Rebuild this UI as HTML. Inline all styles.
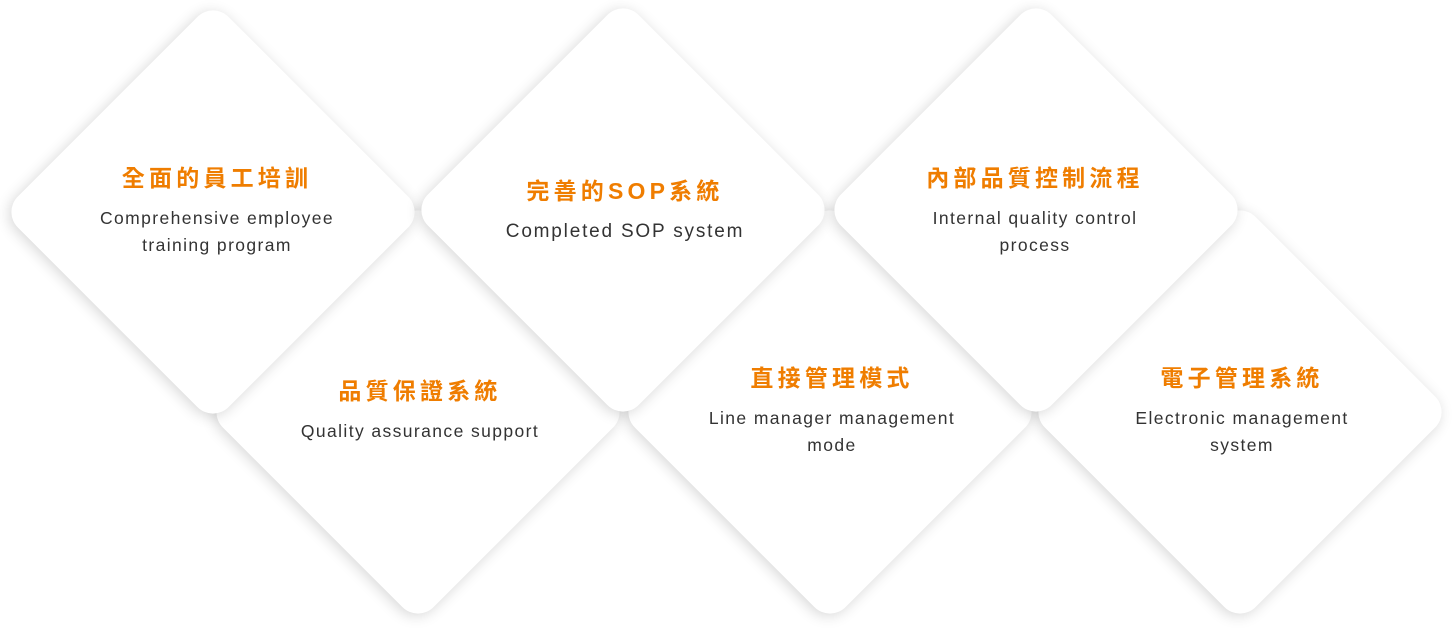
<!DOCTYPE html>
<html><head><meta charset="utf-8"><style>
html,body{margin:0;padding:0;background:#fff;width:1455px;height:631px;overflow:hidden;position:relative;font-family:"Liberation Sans","Noto Sans CJK TC",sans-serif}
.d{position:absolute;width:298px;height:298px;background:#fff;border-radius:22px;transform:rotate(45deg);box-shadow:0 3px 14px rgba(0,0,0,0.16)}
.t{position:absolute;width:320px;text-align:center}
.t h{display:block;color:#ef7d00;font-weight:bold;font-size:23px;letter-spacing:4.2px;margin-bottom:12px;line-height:30px}
.t p{margin:0;color:#333;font-size:17.5px;letter-spacing:1.4px;line-height:27px}
</style></head><body>
<div class="d" style="left:269px;top:263px"></div>
<div class="d" style="left:681px;top:263px"></div>
<div class="d" style="left:1091px;top:263px"></div>
<div class="d" style="left:64px;top:63px"></div>
<div class="d" style="left:474px;top:61px"></div>
<div class="d" style="left:887px;top:61px"></div>

<div class="t" style="left:57px;top:163px"><h>全面的員工培訓</h><p>Comprehensive employee<br>training program</p></div>
<div class="t" style="left:465px;top:176px"><h>完善的SOP系統</h><p style="font-size:19px;letter-spacing:1.8px">Completed SOP system</p></div>
<div class="t" style="left:875px;top:163px"><h>內部品質控制流程</h><p>Internal quality control<br>process</p></div>
<div class="t" style="left:260px;top:376px"><h>品質保證系統</h><p>Quality assurance support</p></div>
<div class="t" style="left:672px;top:363px"><h>直接管理模式</h><p>Line manager management<br>mode</p></div>
<div class="t" style="left:1082px;top:363px"><h>電子管理系統</h><p>Electronic management<br>system</p></div>
</body></html>
